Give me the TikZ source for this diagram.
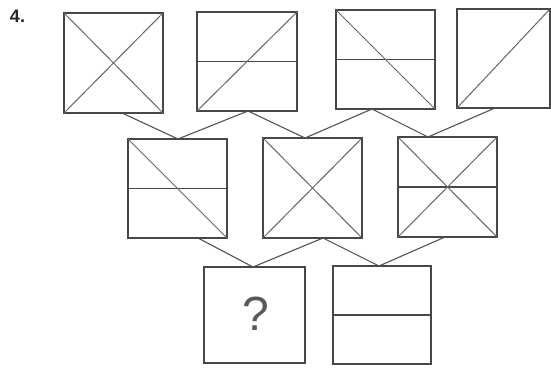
\documentclass[tikz,border=0pt]{standalone}
\usepackage{fontspec}
\setmainfont{Liberation Sans}
\begin{document}
\begin{tikzpicture}[x=1pt,y=-1pt,
  box/.style={draw=black!72,line width=1.3pt,outer sep=0pt,inner sep=0pt},
  diag/.style={draw=black!60,line width=1pt},
  hl/.style={draw=black!72,line width=1.1pt},
  conn/.style={draw=black!68,line width=1.1pt}]
\useasboundingbox[fill=white] (0,0) rectangle (551,367);
% top row
\node[box,minimum width=99pt,minimum height=100pt] (A) at (113.5,63) {};
\node[box,minimum width=100pt,minimum height=99pt] (B) at (247,61.5) {};
\node[box,minimum width=99pt,minimum height=99pt] (C) at (385.5,59.5) {};
\node[box,minimum width=93pt,minimum height=99pt] (D) at (503.5,58.5) {};
% middle row
\node[box,minimum width=99pt,minimum height=99pt] (M1) at (177.5,188.5) {};
\node[box,minimum width=99pt,minimum height=100pt] (M2) at (312.5,188) {};
\node[box,minimum width=99pt,minimum height=100pt] (M3) at (447.5,187) {};
% bottom row
\node[box,minimum width=101pt,minimum height=96pt] (Q) at (254.5,315) {};
\node[box,minimum width=98pt,minimum height=98pt] (R) at (382,315) {};
% inner lines
\draw[diag] (A.north west) -- (A.south east);
\draw[diag] (A.south west) -- (A.north east);
\draw[hl] (B.west) -- (B.east);
\draw[diag] (B.south west) -- (B.north east);
\draw[hl] (C.west) -- (C.east);
\draw[diag] (C.north west) -- (C.south east);
\draw[diag] (D.south west) -- (D.north east);
\draw[hl] (M1.west) -- (M1.east);
\draw[diag] (M1.north west) -- (M1.south east);
\draw[diag] (M2.north west) -- (M2.south east);
\draw[diag] (M2.south west) -- (M2.north east);
\draw[hl] (M3.west) -- (M3.east);
\draw[diag] (M3.north west) -- (M3.south east);
\draw[diag] (M3.south west) -- (M3.north east);
\draw[hl] (R.west) -- (R.east);
% connectors
\draw[conn] ([xshift=8.5pt]A.south) -- ([xshift=0.5pt]M1.north);
\draw[conn] ([xshift=1pt]B.south) -- ([xshift=0.5pt]M1.north);
\draw[conn] ([xshift=1pt]B.south) -- ([xshift=-7.5pt]M2.north);
\draw[conn] ([xshift=-13.5pt]C.south) -- ([xshift=-7.5pt]M2.north);
\draw[conn] ([xshift=-13.5pt]C.south) -- ([xshift=-19.5pt]M3.north);
\draw[conn] ([xshift=-8.5pt]D.south) -- ([xshift=-19.5pt]M3.north);
\draw[conn] ([xshift=20.5pt]M1.south) -- ([xshift=-1.5pt]Q.north);
\draw[conn] ([xshift=10.5pt]M2.south) -- ([xshift=-1.5pt]Q.north);
\draw[conn] ([xshift=10.5pt]M2.south) -- ([xshift=-3pt]R.north);
\draw[conn] ([xshift=-2.5pt]M3.south) -- ([xshift=-3pt]R.north);
% texts
\node[text=black!65,font=\fontsize{48}{48}\selectfont,inner sep=0pt] (qm) at (255.5,314) {?};
\node[font=\fontsize{18}{18}\selectfont\bfseries,inner sep=0pt,text=black!85] (num) at (17.5,16.5) {4.};
\end{tikzpicture}
\end{document}
